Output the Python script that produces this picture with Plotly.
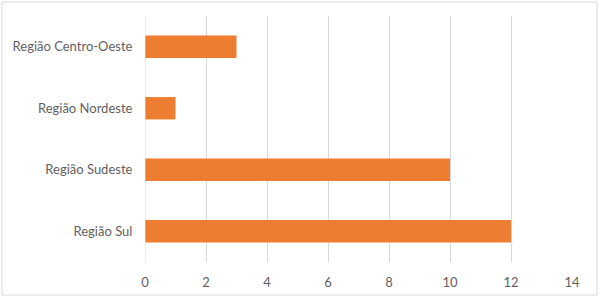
import plotly.graph_objects as go

categories = ["Região Sul", "Região Sudeste", "Região Nordeste", "Região Centro-Oeste"]
values = [12, 10, 1, 3]
x_ticks = [0, 2, 4, 6, 8, 10, 12, 14]

L, R, T, B = 145, 28, 16, 38
W, H = 600, 300
pw, ph = W - L - R, H - T - B

FONT = "Lato, Open Sans, sans-serif"

fig = go.Figure(go.Bar(
    y=categories, x=values, orientation="h",
    marker=dict(color="#ED7D31", line=dict(width=0)),
    hoverinfo="skip",
))

fig.update_layout(
    width=W, height=H,
    margin=dict(l=L, r=R, t=T, b=B, autoexpand=False),
    paper_bgcolor="white", plot_bgcolor="white",
    bargap=0.636,
    showlegend=False,
    font=dict(family=FONT, size=13, color="#5f5f5f"),
    xaxis=dict(
        range=[0, 14], tickvals=x_ticks, ticktext=[str(v) for v in x_ticks],
        showgrid=True, gridcolor="#D9D9D9", gridwidth=1,
        zeroline=False, showline=False, ticks="outside", ticklen=8, tickcolor="rgba(0,0,0,0)",
        tickfont=dict(family=FONT, size=13, color="#5f5f5f"), fixedrange=True,
        automargin=False,
    ),
    yaxis=dict(
        categoryorder="array", categoryarray=categories,
        showgrid=False, zeroline=False, showline=False,
        ticks="outside", ticklen=9, tickcolor="rgba(0,0,0,0)",
        tickfont=dict(family=FONT, size=13, color="#5f5f5f"), fixedrange=True,
        automargin=False,
    ),
    shapes=[
        dict(type="line", xref="x", yref="paper", x0=0, x1=0, y0=0, y1=1,
             line=dict(color="#D9D9D9", width=1), layer="above"),
        dict(type="rect", xref="paper", yref="paper",
             x0=(2 - L) / pw, x1=(597 - L) / pw,
             y0=-(295 - (T + ph)) / ph, y1=1 + (T - 2) / ph,
             line=dict(color="#D9D9D9", width=1)),
    ],
)

fig.write_html("out.html", config={"displayModeBar": False},
               post_script="document.body.style.margin='0';")
